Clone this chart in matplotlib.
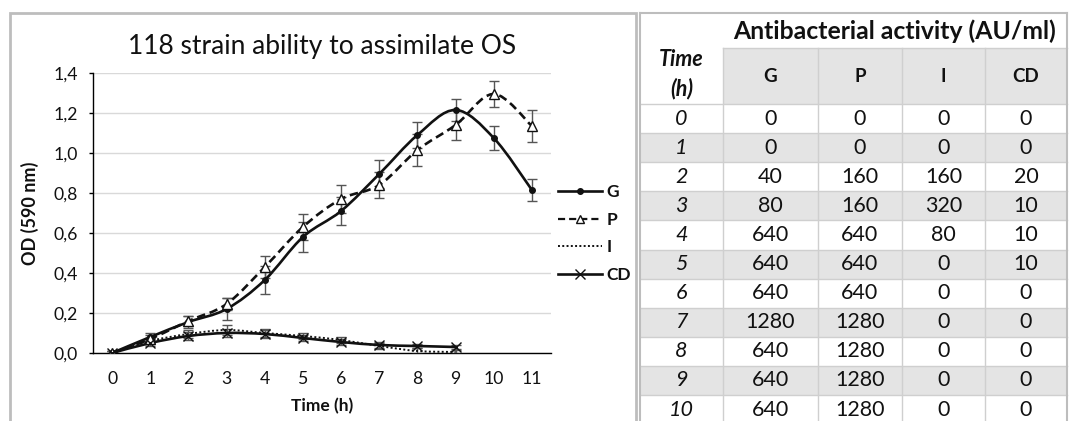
import numpy as np
import matplotlib
matplotlib.use("Agg")
import matplotlib.pyplot as plt
from matplotlib.path import Path
from matplotlib.patches import PathPatch, Rectangle
from matplotlib.lines import Line2D

plt.rcParams['font.family'] = ['Lato', 'DejaVu Sans']

# ---------------- data ----------------
time_h = [0, 1, 2, 3, 4, 5, 6, 7, 8, 9, 10, 11]
G = [0.0, 0.08, 0.155, 0.22, 0.365, 0.58, 0.71, 0.895, 1.09, 1.215, 1.075, 0.815]
G_err = [0.01, 0.02, 0.03, 0.055, 0.07, 0.075, 0.07, 0.07, 0.065, 0.055, 0.06, 0.055]
P = [0.0, 0.07, 0.16, 0.245, 0.43, 0.63, 0.77, 0.84, 1.015, 1.14, 1.295, 1.135]
P_err = [0.01, 0.02, 0.025, 0.03, 0.055, 0.065, 0.07, 0.065, 0.08, 0.075, 0.065, 0.08]
time_low = [0, 1, 2, 3, 4, 5, 6, 7, 8, 9]
I = [0.0, 0.06, 0.095, 0.115, 0.10, 0.085, 0.065, 0.035, 0.01, 0.005]
I_err = [0.01, 0.015, 0.02, 0.025, 0.02, 0.015, 0.015, 0.015, 0.015, 0.01]
CD = [0.0, 0.05, 0.085, 0.10, 0.095, 0.075, 0.055, 0.04, 0.035, 0.03]
CD_err = [0.01, 0.015, 0.02, 0.02, 0.02, 0.015, 0.015, 0.015, 0.01, 0.01]

y_ticks = [0.0, 0.2, 0.4, 0.6, 0.8, 1.0, 1.2, 1.4]
y_ticklabels = ["0,0", "0,2", "0,4", "0,6", "0,8", "1,0", "1,2", "1,4"]

tbl_time = ["0", "1", "2", "3", "4", "5", "6", "7", "8", "9", "10"]
tbl_cols = ["G", "P", "I", "CD"]
tbl_G = [0, 0, 40, 80, 640, 640, 640, 1280, 640, 640, 640]
tbl_P = [0, 0, 160, 160, 640, 640, 640, 1280, 1280, 1280, 1280]
tbl_I = [0, 0, 160, 320, 80, 0, 0, 0, 0, 0, 0]
tbl_CD = [0, 0, 20, 10, 10, 10, 0, 0, 0, 0, 0]


def smooth_path(x, y):
    """Excel-like smoothed line: Catmull-Rom segments as cubic Beziers."""
    x = np.asarray(x, float)
    y = np.asarray(y, float)
    pts = np.column_stack([x, y])
    n = len(pts)
    verts = [pts[0]]
    codes = [Path.MOVETO]
    for i in range(n - 1):
        p0 = pts[i - 1] if i > 0 else pts[i]
        p1 = pts[i]
        p2 = pts[i + 1]
        p3 = pts[i + 2] if i + 2 < n else pts[i + 1]
        c1 = p1 + (p2 - p0) / 6.0
        c2 = p2 - (p3 - p1) / 6.0
        verts += [c1, c2, p2]
        codes += [Path.CURVE4] * 3
    return Path(verts, codes)


W, H = 1069, 421
fig = plt.figure(figsize=(W / 100, H / 100), dpi=100)

txt_c = '#111111'

# overlay in pixel coordinates for border and table
ov = fig.add_axes([0, 0, 1, 1], zorder=0)
ov.set_xlim(0, W)
ov.set_ylim(H, 0)
ov.axis('off')

# chart border
border_c = '#bdbdbd'
ov.plot([10, 10, 636, 636], [H + 5, 13, 13, H + 5], color=border_c, lw=2.0,
        solid_joinstyle='miter')

# ---------------- chart ----------------
x0, x1 = 93, 551
yt, yb = 73, 353
ax = fig.add_axes([x0 / W, 1 - yb / H, (x1 - x0) / W, (yb - yt) / H], zorder=2)
ax.patch.set_alpha(0)
ax.set_xlim(-0.5, 11.5)
ax.set_ylim(0, 1.4)
ax.set_yticks(y_ticks)
ax.set_yticklabels(y_ticklabels)
ax.set_xticks(time_h)
ax.set_xticklabels([str(t) for t in time_h])
ax.grid(axis='y', color='#d9d9d9', lw=1.0)
ax.set_axisbelow(True)
for s in ['top', 'right']:
    ax.spines[s].set_visible(False)
ax.spines['left'].set_color('black')
ax.spines['bottom'].set_color('black')
ax.spines['left'].set_linewidth(1.0)
ax.spines['bottom'].set_linewidth(1.0)
ax.tick_params(axis='y', length=3, width=1, pad=8, labelsize=12.7, colors='black',
               labelcolor=txt_c)
ax.tick_params(axis='x', length=0, pad=13, labelsize=12.7, labelcolor=txt_c)
ax.set_xlabel("Time (h)", fontsize=12.5, fontweight='bold', labelpad=8, color=txt_c)
ax.set_ylabel("OD (590 nm)", fontsize=13, fontweight='bold', labelpad=10, color=txt_c)
ax.set_title("118 strain ability to assimilate OS", fontsize=19, pad=14, color=txt_c)

err_c = '#555555'
ekw = dict(fmt='none', ecolor=err_c, elinewidth=1.0, capsize=3.5, capthick=1.0, zorder=3)
ax.errorbar(time_h, G, yerr=G_err, **ekw)
ax.errorbar(time_h, P, yerr=P_err, **ekw)
ax.errorbar(time_low, I, yerr=I_err, **ekw)
ax.errorbar(time_low, CD, yerr=CD_err, **ekw)

lc = '#111111'
ax.add_patch(PathPatch(smooth_path(time_h, G), fill=False, ec=lc, lw=1.9, zorder=4))
ax.add_patch(PathPatch(smooth_path(time_h, P), fill=False, ec=lc, lw=1.9,
                       ls=(0, (3.2, 1.8)), zorder=4))
ax.add_patch(PathPatch(smooth_path(time_low, I), fill=False, ec=lc, lw=1.4,
                       ls=(0, (1, 1.2)), zorder=4))
ax.add_patch(PathPatch(smooth_path(time_low, CD), fill=False, ec=lc, lw=1.9, zorder=4))

ax.plot(time_h, G, ls='none', marker='o', ms=4, color=lc, zorder=5)
ax.plot(time_h, P, ls='none', marker='^', ms=6.5, mfc='white', mec=lc, mew=1.0, zorder=5)
ax.plot(time_low, CD, ls='none', marker='x', ms=6.5, mec=lc, mew=1.0, zorder=5)

handles = [
    Line2D([], [], color=lc, lw=1.9, marker='o', ms=4),
    Line2D([], [], color=lc, lw=1.6, ls=(0, (3.2, 1.8)), marker='^', ms=6, mfc='white', mew=1.0),
    Line2D([], [], color=lc, lw=1.4, ls=(0, (1, 1.2))),
    Line2D([], [], color=lc, lw=1.9, marker='x', ms=7, mew=1.0),
]
fig.legend(handles, ["G", "P", "I", "CD"], loc='center left',
           bbox_to_anchor=(558 / W, 1 - 233.5 / H), frameon=False,
           prop={'weight': 'bold', 'size': 12.5}, handlelength=2.55,
           handletextpad=0.25, labelspacing=0.68, borderpad=0, borderaxespad=0,
           labelcolor=txt_c)

# ---------------- table ----------------
col_edges = [640, 723, 818, 902, 985, 1067]
top_y = 13
head_y = 48
row0_y = 104
row_h = 29.1
grid_c = '#cfcfcf'
fill_c = '#e4e4e4'

n_rows = len(tbl_time)
# fills
for j in range(1, 5):
    ov.add_patch(Rectangle((col_edges[j], head_y), col_edges[j + 1] - col_edges[j],
                           row0_y - head_y, fc=fill_c, ec='none', zorder=1))
for i in range(n_rows):
    if i % 2 == 1:
        ov.add_patch(Rectangle((col_edges[0], row0_y + i * row_h), col_edges[-1] - col_edges[0],
                               row_h, fc=fill_c, ec='none', zorder=1))
bottom = row0_y + n_rows * row_h
# grid lines
ov.plot([col_edges[0], col_edges[-1]], [top_y, top_y], color=border_c, lw=1.5, zorder=2)
ov.plot([col_edges[1], col_edges[-1]], [head_y, head_y], color=grid_c, lw=1.0, zorder=2)
for i in range(n_rows + 1):
    yy = row0_y + i * row_h
    ov.plot([col_edges[0], col_edges[-1]], [yy, yy], color=grid_c, lw=1.0, zorder=2)
ov.plot([col_edges[0], col_edges[0]], [top_y, bottom], color=border_c, lw=1.5, zorder=2)
ov.plot([col_edges[-1], col_edges[-1]], [top_y, bottom], color=border_c, lw=1.5, zorder=2)
for j in range(1, 5):
    ov.plot([col_edges[j], col_edges[j]], [head_y, bottom], color=grid_c, lw=1.0, zorder=2)

ov.text((col_edges[1] + col_edges[-1]) / 2, (top_y + head_y) / 2 + 1,
        "Antibacterial activity (AU/ml)", ha='center', va='center',
        fontsize=17.8, fontweight='bold', color=txt_c, zorder=3)
ov.text((col_edges[0] + col_edges[1]) / 2, 59, "Time", ha='center', va='center',
        fontsize=15.5, fontweight='bold', style='italic', color=txt_c, zorder=3)
ov.text((col_edges[0] + col_edges[1]) / 2, 89, "(h)", ha='center', va='center',
        fontsize=15.5, fontweight='bold', style='italic', color=txt_c, zorder=3)
for j, name in enumerate(tbl_cols):
    ov.text((col_edges[j + 1] + col_edges[j + 2]) / 2, (head_y + row0_y) / 2, name,
            ha='center', va='center', fontsize=13.5, fontweight='bold', color=txt_c, zorder=3)

cols_vals = [tbl_G, tbl_P, tbl_I, tbl_CD]
for i in range(n_rows):
    yc = row0_y + (i + 0.5) * row_h
    ov.text((col_edges[0] + col_edges[1]) / 2, yc, tbl_time[i], ha='center', va='center',
            fontsize=15.5, style='italic', color=txt_c, zorder=3)
    for j, vals in enumerate(cols_vals):
        ov.text((col_edges[j + 1] + col_edges[j + 2]) / 2, yc, str(vals[i]),
                ha='center', va='center', fontsize=15.5, color=txt_c, zorder=3)

fig.savefig("out.png", dpi=100)
